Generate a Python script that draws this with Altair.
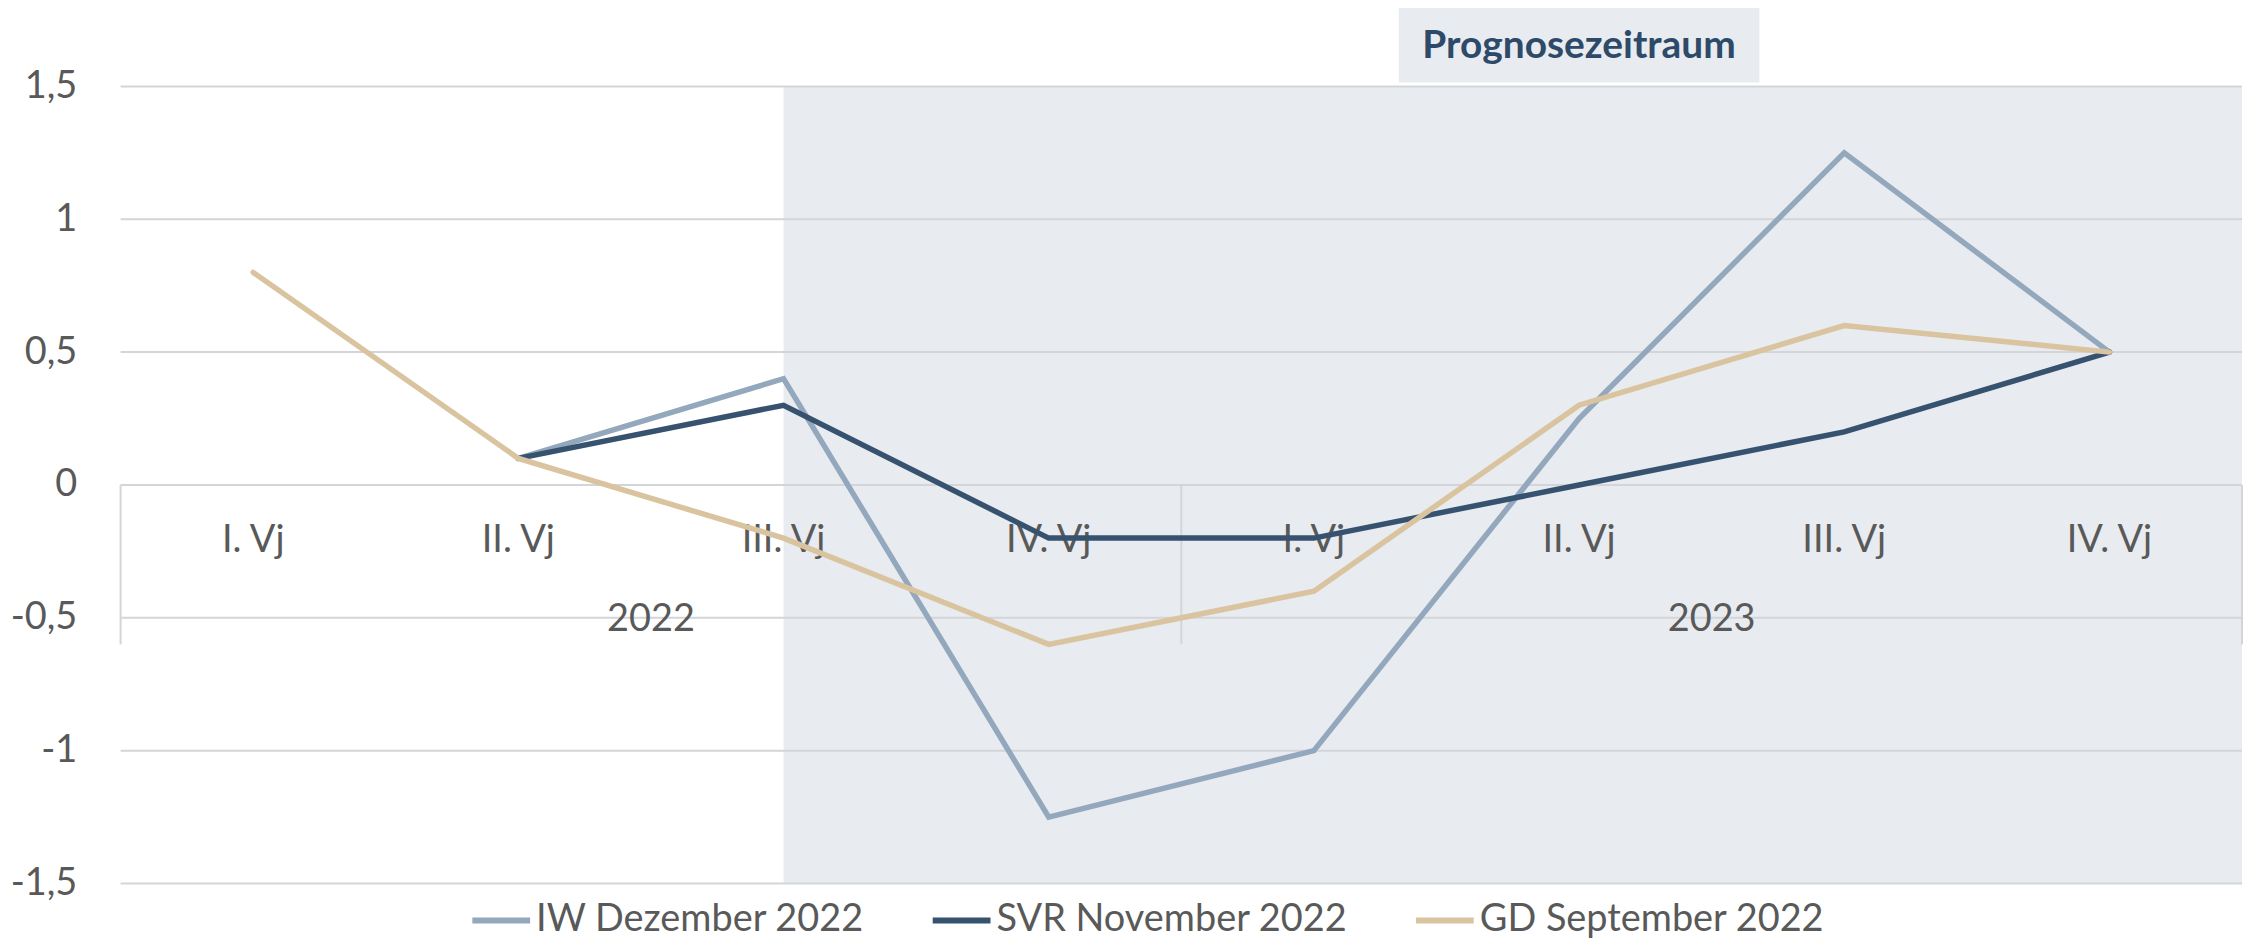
import altair as alt
import pandas as pd

# ---- data ----
quarters = ["I. Vj", "II. Vj", "III. Vj", "IV. Vj", "I. Vj", "II. Vj", "III. Vj", "IV. Vj"]
quarter_year = ["2022", "2022", "2022", "2022", "2023", "2023", "2023", "2023"]
years = ["2022", "2023"]
iw = [None, 0.1, 0.4, -1.25, -1.0, 0.25, 1.25, 0.5]
svr = [None, 0.1, 0.3, -0.2, -0.2, 0.0, 0.2, 0.5]
gd = [0.8, 0.1, -0.2, -0.6, -0.4, 0.3, 0.6, 0.5]
series_names = ["IW Dezember 2022", "SVR November 2022", "GD September 2022"]
series_colors = ["#93A8BD", "#37526F", "#D9C49F"]
y_ticks = [-1.5, -1.0, -0.5, 0.0, 0.5, 1.0, 1.5]
forecast_label = "Prognosezeitraum"
forecast_start = 2  # III. Vj 2022

n = len(quarters)
FONT = "Lato"
GREY = "#595959"

# ---- tables ----
rows = []
for name, vals in zip(series_names, [iw, svr, gd]):
    for i, v in enumerate(vals):
        if v is not None:
            rows.append({"series": name, "pos": i + 0.5, "value": v})
lines_df = pd.DataFrame(rows)

quarter_df = pd.DataFrame({"pos": [i + 0.5 for i in range(n)], "label": quarters, "zero": 0.0})
year_df = pd.DataFrame({
    "pos": [sum(i + 0.5 for i, y in enumerate(quarter_year) if y == yr) / quarter_year.count(yr) for yr in years],
    "label": years, "zero": 0.0,
})
sep_df = pd.DataFrame({"pos": [0, quarter_year.count(years[0]), n], "y0": 0.0, "y1": -0.6})
grid_df = pd.DataFrame({"value": y_ticks, "x0": 0.0, "x1": float(n)})
shade_df = pd.DataFrame({"x": [forecast_start + 0.5], "x2": [float(n)], "y": [min(y_ticks)], "y2": [max(y_ticks)]})
box_df = pd.DataFrame({"label": [forecast_label], "x": [4.82], "x2": [6.18], "xc": [5.5]})

xscale = alt.Scale(domain=[0, n], nice=False, zero=False)
yscale = alt.Scale(domain=[min(y_ticks), max(y_ticks)], nice=False, zero=False)
yaxis = alt.Axis(values=y_ticks, grid=False, domain=False, ticks=False, labelPadding=44,
                 labelFontSize=38, labelFont=FONT, labelColor=GREY, title=None,
                 labelExpr="(datum.value < 0 ? '-' : '') + replace(format(abs(datum.value), '.1~f'), '.', ',')")


def X(f):
    return alt.X(f, scale=xscale, axis=None, title=None)


def Y(f):
    return alt.Y(f, scale=yscale, axis=yaxis, title=None)


shade = alt.Chart(shade_df).mark_rect(fill="#E8EBF0").encode(
    x=X("x:Q"), x2="x2:Q", y=Y("y:Q"), y2="y2:Q")

grid = alt.Chart(grid_df).mark_rule(color="#D3D5D8", strokeWidth=2).encode(
    y=Y("value:Q"), x=X("x0:Q"), x2="x1:Q")

seps = alt.Chart(sep_df).mark_rule(color="#D3D5D8", strokeWidth=2).encode(
    x=X("pos:Q"), y=Y("y0:Q"), y2="y1:Q")

qlabels = alt.Chart(quarter_df).mark_text(
    font=FONT, fontSize=38, color=GREY, dy=56, baseline="middle").encode(
    x=X("pos:Q"), y=Y("zero:Q"), text="label:N")

ylabels = alt.Chart(year_df).mark_text(
    font=FONT, fontSize=38, color=GREY, dy=136, baseline="middle").encode(
    x=X("pos:Q"), y=Y("zero:Q"), text="label:N")

color = alt.Color("series:N", scale=alt.Scale(domain=series_names, range=series_colors),
                  legend=alt.Legend(orient="none", legendX=350, legendY=805, direction="horizontal",
                                    symbolType="stroke", symbolStrokeWidth=6, symbolSize=3364,
                                    labelFontSize=38, labelFont=FONT, labelColor=GREY, labelLimit=1000,
                                    columnPadding=56, labelOffset=3, title=None, padding=0))

line_layers = []
for name in series_names:
    line_layers.append(
        alt.Chart(lines_df[lines_df["series"] == name].reset_index(drop=True)).mark_line(
            strokeWidth=5.5, strokeCap="round").encode(
            x=X("pos:Q"), y=Y("value:Q"), color=color)
    )

box = alt.Chart(box_df).mark_rect(fill="#E8EBF0").encode(
    x=X("x:Q"), x2="x2:Q", y=alt.value(-80), y2=alt.value(-4))
box_text = alt.Chart(box_df).mark_text(
    font=FONT, fontSize=39, fontWeight="bold", color="#2E4A69", baseline="middle").encode(
    x=X("xc:Q"), y=alt.value(-40), text="label:N")

chart = alt.layer(shade, grid, seps, qlabels, ylabels, *line_layers, box, box_text).properties(
    width=2129, height=800,
    autosize=alt.AutoSizeParams(type="none"),
    padding={"left": 113, "top": 77, "right": 4, "bottom": 56},
).configure_view(stroke=None)

chart.save("out.html", embed_options={"renderer": "svg", "actions": False})
